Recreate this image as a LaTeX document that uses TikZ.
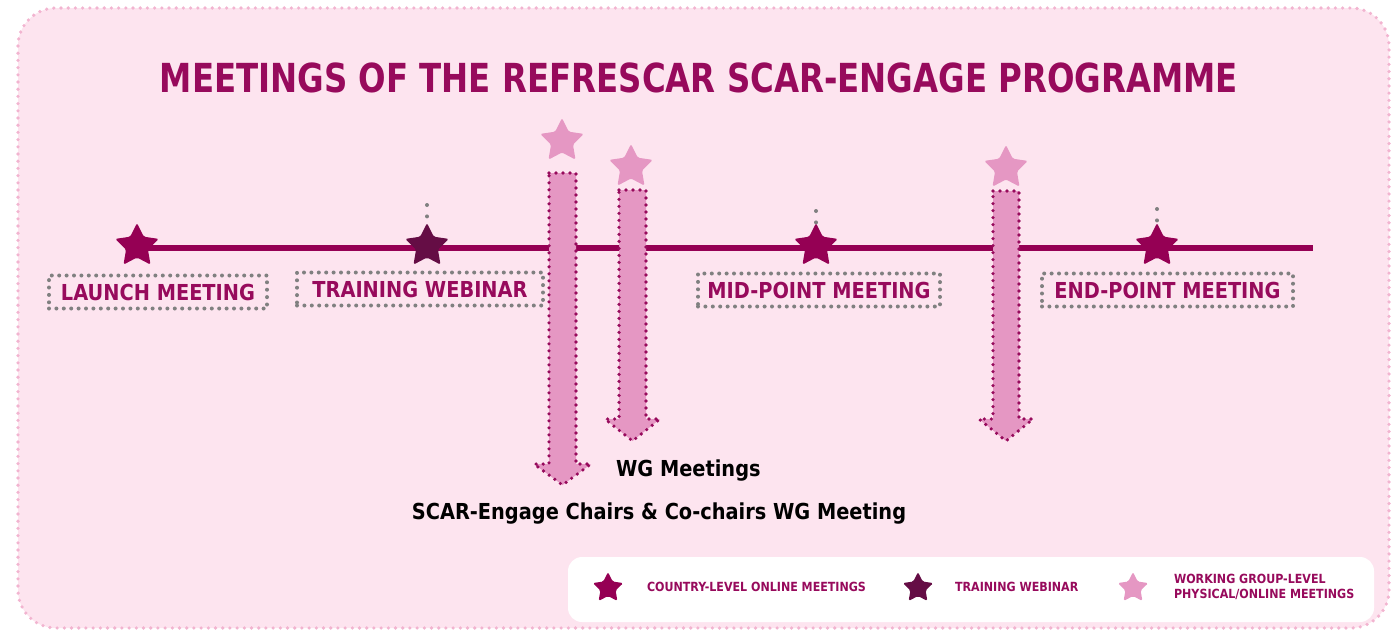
\documentclass[tikz,border=0pt]{standalone}
\usepackage{fontspec}
\setmainfont{DejaVu Sans}[FakeStretch=0.88]
\newfontfamily\titlefont{DejaVu Sans}[FakeStretch=0.81]
\usetikzlibrary{shapes.geometric}

\definecolor{bgpink}{HTML}{FDE4EF}
\definecolor{framedots}{HTML}{F2B4D0}
\definecolor{titlecol}{HTML}{970A5C}
\definecolor{countrycol}{HTML}{950054}
\definecolor{trainingcol}{HTML}{650D45}
\definecolor{wgpink}{HTML}{E597C3}
\definecolor{dotgray}{HTML}{808080}

\begin{document}
\begin{tikzpicture}[x=0.5pt,y=-0.5pt,
    mstar/.style={star, star points=5, star point ratio=2.0, minimum size=23pt,
        inner sep=0pt, rounded corners=0.8pt, fill=#1},
    lstar/.style={mstar=#1, minimum size=16pt},
    eventbox/.style={draw=dotgray, dash pattern=on 0pt off 3.7pt, line cap=round,
        line width=2pt, text=titlecol, font=\bfseries\fontsize{11}{13}\selectfont,
        minimum height=16.5pt, inner sep=0pt},
    wgarrow/.style={fill=wgpink, draw=titlecol, dash pattern=on 0pt off 3.5pt,
        line cap=round, line width=1.8pt},
    stub/.style={draw=dotgray, dash pattern=on 0pt off 5.7pt, line cap=round, line width=2pt},
    legtext/.style={anchor=west, text=titlecol, font=\bfseries\fontsize{6.3}{7.2}\selectfont, align=left}]
    \useasboundingbox (0,0) rectangle (1396,632);

    % Cadre
    \draw[fill=bgpink, draw=framedots, dash pattern=on 0pt off 3.6pt, line cap=round,
        line width=1.8pt, rounded corners=19pt] (18,8) rectangle (1389,628);

    % Titre
    \node[text=titlecol, font=\titlefont\bfseries\fontsize{20}{24}\selectfont] (title) at (699,77.5)
        {MEETINGS OF THE REFRESCAR SCAR-ENGAGE PROGRAMME};

    % Ligne du temps
    \coordinate (t-start) at (137,248);
    \coordinate (t-end) at (1313,248);
    \draw[line width=3pt, countrycol] (t-start) -- (t-end);

    % Etoiles
    \node[mstar=countrycol] (s-launch) at (137,246) {};
    \node[mstar=trainingcol] (s-training) at (427,246) {};
    \node[mstar=countrycol] (s-mid) at (816,246) {};
    \node[mstar=countrycol] (s-end) at (1157,246) {};
    \draw[stub] (s-training) ++(0,-41) -- ++(0,12);
    \draw[stub] (s-mid) ++(0,-35) -- ++(0,12);
    \draw[stub] (s-end) ++(0,-37) -- ++(0,12);

    % Etiquettes
    \node[eventbox, minimum width=109pt] (launch) at (158,292) {LAUNCH MEETING};
    \node[eventbox, minimum width=123pt] (training) at (420,289) {TRAINING WEBINAR};
    \node[eventbox, minimum width=121pt] (mid) at (819,290) {MID-POINT MEETING};
    \node[eventbox, minimum width=125.5pt] (end) at (1167.5,290) {END-POINT MEETING};

    % Fleches WG
    \draw[wgarrow] (549,173) -- (576,173) -- (576,464) -- (591,464) -- (562.5,485)
        -- (534,464) -- (549,464) -- cycle;
    \draw[wgarrow] (619,190) -- (646,190) -- (646,419) -- (660,419) -- (632.5,441)
        -- (605,419) -- (619,419) -- cycle;
    \draw[wgarrow] (993,191) -- (1019,191) -- (1019,419) -- (1033,419) -- (1006,441)
        -- (979,419) -- (993,419) -- cycle;
    \node[mstar=wgpink] (wg-a) at (562,141) {};
    \node[mstar=wgpink] (wg-b) at (631,167) {};
    \node[mstar=wgpink] (wg-c) at (1006,168) {};

    % Textes
    \node[font=\bfseries\fontsize{11}{13}\selectfont, anchor=west] (wgtext) at (609,471)
        {WG Meetings};
    \node[font=\bfseries\fontsize{11}{13}\selectfont] (chairs) at (659,514)
        {SCAR-Engage Chairs \& Co-chairs WG Meeting};

    % Legende
    \fill[white, rounded corners=7pt] (568,557) rectangle (1374,622);
    \node[lstar=countrycol] (l-country) at (608,588) {};
    \node[lstar=trainingcol] (l-training) at (918,588) {};
    \node[lstar=wgpink] (l-wg) at (1133,588) {};
    \node[legtext] (l-country-txt) at (640,587) {COUNTRY-LEVEL ONLINE MEETINGS};
    \node[legtext] (l-training-txt) at (948,587) {TRAINING WEBINAR};
    \node[legtext] (l-wg-txt) at (1167,587) {WORKING GROUP-LEVEL\\PHYSICAL/ONLINE MEETINGS};
\end{tikzpicture}
\end{document}
